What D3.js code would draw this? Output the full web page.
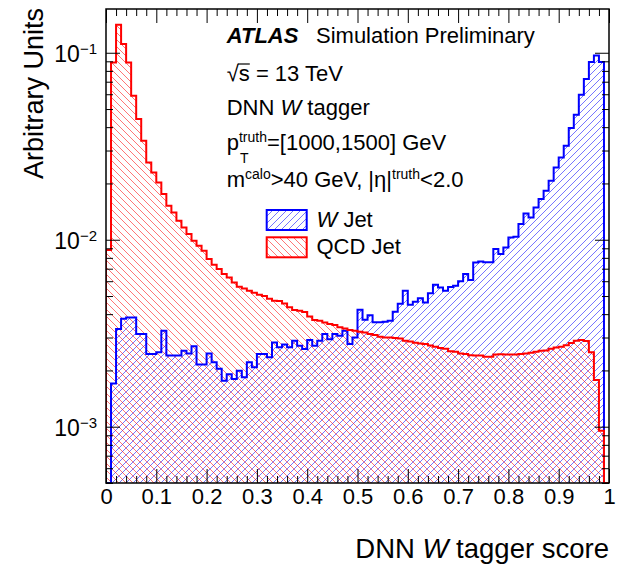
<!DOCTYPE html>
<html>
<head>
<meta charset="utf-8">
<script src="https://cdn.jsdelivr.net/npm/d3@7"></script>
<style>
  body { margin: 0; background: #fff; }
  svg { display: block; }
  text { font-family: "Liberation Sans", Arial, Helvetica, sans-serif; fill: #000; }
</style>
</head>
<body>
<svg id="chart" width="627" height="564"></svg>
<script>
// DNN W tagger score, 100 bins of width 0.01 on [0, 1]
const binWidth = 0.01;

// W jet (signal) normalised bin contents
const wJet = [
  0, 0.00170, 0.00333, 0.00378, 0.00384, 0.00384, 0.00313, 0.00313, 0.00245, 0.00245,
  0.00250, 0.00326, 0.00240, 0.00240, 0.00240, 0.00255, 0.00246, 0.00269, 0.00215, 0.00215,
  0.00246, 0.00221, 0.00204, 0.00176, 0.00191, 0.00180, 0.00199, 0.00184, 0.00221, 0.00208,
  0.00245, 0.00245, 0.00235, 0.00282, 0.00266, 0.00275, 0.00266, 0.00288, 0.00271, 0.00260,
  0.00291, 0.00271, 0.00288, 0.00313, 0.00294, 0.00313, 0.00307, 0.00326, 0.00277, 0.00300,
  0.00422, 0.00373, 0.00395, 0.00362, 0.00362, 0.00364, 0.00369, 0.00412, 0.00455, 0.00534,
  0.00449, 0.00466, 0.00487, 0.00462, 0.00518, 0.00575, 0.00556, 0.00534, 0.00559, 0.00568,
  0.00600, 0.00656, 0.00609, 0.00756, 0.00766, 0.00758, 0.00758, 0.00892, 0.00839, 0.00910,
  0.01029, 0.01038, 0.01213, 0.01382, 0.01316, 0.01489, 0.01651, 0.01828, 0.02068, 0.02435,
  0.02754, 0.03182, 0.03957, 0.04661, 0.05961, 0.07235, 0.08918, 0.09673, 0.08918, 0
];

// QCD jet (background) normalised bin contents
const qcdJet = [
  0.00881, 0.0887, 0.1411, 0.1113, 0.0887, 0.0589, 0.0442, 0.0338, 0.0259, 0.0229,
  0.02025, 0.01756, 0.01520, 0.01400, 0.01264, 0.01164, 0.01073, 0.00988, 0.00929, 0.00873,
  0.00788, 0.00735, 0.00697, 0.00656, 0.00629, 0.00591, 0.00561, 0.00549, 0.00534, 0.00521,
  0.00508, 0.00500, 0.00484, 0.00472, 0.00470, 0.00456, 0.00435, 0.00421, 0.00417, 0.00411,
  0.00388, 0.00372, 0.00369, 0.00361, 0.00354, 0.00350, 0.00340, 0.00335, 0.00329, 0.00326,
  0.00322, 0.00319, 0.00313, 0.00309, 0.00303, 0.00300, 0.00300, 0.00298, 0.00296, 0.00288,
  0.00286, 0.00281, 0.00279, 0.00277, 0.00272, 0.00268, 0.00264, 0.00261, 0.00253, 0.00252,
  0.00246, 0.00245, 0.00241, 0.00240, 0.00240, 0.00237, 0.00237, 0.00243, 0.00244, 0.00243,
  0.00243, 0.00243, 0.00245, 0.00246, 0.00249, 0.00252, 0.00255, 0.00256, 0.00261, 0.00265,
  0.00268, 0.00273, 0.00280, 0.00288, 0.00291, 0.00287, 0.00250, 0.00178, 0.000952, 0
];

const xTicks = [0, 0.1, 0.2, 0.3, 0.4, 0.5, 0.6, 0.7, 0.8, 0.9, 1];
const xTickLabels = ["0", "0.1", "0.2", "0.3", "0.4", "0.5", "0.6", "0.7", "0.8", "0.9", "1"];
const yDecades = [1e-3, 1e-2, 1e-1];
const yDecadeExponents = ["\u22123", "\u22122", "\u22121"];

const legendItems = [
  { label: "W", rest: " Jet", italic: true, color: "#0000ff", pattern: "hatchW" },
  { label: "QCD Jet", rest: "", italic: false, color: "#ff0000", pattern: "hatchQCD" }
];

const svg = d3.select("#chart");
const frame = { left: 106, right: 609, top: 9, bottom: 483 };

const x = d3.scaleLinear().domain([0, 1]).range([frame.left, frame.right]);
const y = d3.scaleLog().domain([5e-4, 0.1714]).range([frame.bottom, frame.top]).clamp(true);

// hatch patterns: "/" for W jets, "\" for QCD jets
const defs = svg.append("defs");
function hatch(id, color, dir) {
  const p = 7;
  const pat = defs.append("pattern")
    .attr("id", id).attr("patternUnits", "userSpaceOnUse")
    .attr("width", p).attr("height", p);
  const d = dir === "back"
    ? `M0,0L${p},${p}M-1,${p - 1}L1,${p + 1}M${p - 1},-1L${p + 1},1`
    : `M0,${p}L${p},0M-1,1L1,-1M${p - 1},${p + 1}L${p + 1},${p - 1}`;
  pat.append("path").attr("d", d).attr("stroke", color)
    .attr("stroke-width", 0.9).attr("stroke-opacity", 0.6).attr("fill", "none");
}
hatch("hatchW", "#0000ff", "fwd");
hatch("hatchQCD", "#ff0000", "back");

defs.append("clipPath").attr("id", "plotClip")
  .append("rect").attr("x", frame.left).attr("y", frame.top)
  .attr("width", frame.right - frame.left).attr("height", frame.bottom - frame.top);

// step outline of a histogram
function stepPoints(vals) {
  const pts = [[x(0), frame.bottom]];
  vals.forEach((v, i) => {
    const yy = v > 0 ? y(v) : frame.bottom;
    pts.push([x(i * binWidth), yy], [x((i + 1) * binWidth), yy]);
  });
  pts.push([x(vals.length * binWidth), frame.bottom]);
  return pts;
}
const line = d3.line();

const plot = svg.append("g").attr("clip-path", "url(#plotClip)");
const series = [
  { vals: wJet, color: "#0000ff", pattern: "hatchW" },
  { vals: qcdJet, color: "#ff0000", pattern: "hatchQCD" }
];
series.forEach(s => {
  plot.append("path").attr("d", line(stepPoints(s.vals)) + "Z")
    .attr("fill", `url(#${s.pattern})`).attr("stroke", "none");
});
series.forEach(s => {
  plot.append("path").attr("d", line(stepPoints(s.vals)))
    .attr("fill", "none").attr("stroke", s.color).attr("stroke-width", 2)
    .attr("stroke-linejoin", "miter");
});

// axes: ticks point inward on all four sides
const xMinor = d3.range(0, 51).map(i => i * 0.02).filter((v, i) => i % 5 !== 0);
const yMinor = [];
[1e-4, 1e-3, 1e-2].forEach(dec => {
  for (let m = 2; m <= 9; m++) {
    const v = m * dec;
    if (v >= 5e-4 && v <= 0.1714) yMinor.push(v);
  }
});

function axisGroup(axis, tx, ty) {
  const g = svg.append("g").attr("transform", `translate(${tx},${ty})`).call(axis);
  g.select(".domain").remove();
  g.selectAll(".tick line").attr("stroke", "#000").attr("stroke-width", 1);
  return g;
}
const fs = 22;
const bottomAxis = axisGroup(
  d3.axisBottom(x).tickValues(xTicks).tickSize(-14).tickPadding(5)
    .tickFormat((d, i) => xTickLabels[i]), 0, frame.bottom);
bottomAxis.selectAll("text").attr("font-size", fs).attr("font-family", null);
axisGroup(d3.axisBottom(x).tickValues(xMinor).tickSize(-7).tickFormat(""), 0, frame.bottom);
axisGroup(d3.axisTop(x).tickValues(xTicks).tickSize(-14).tickFormat(""), 0, frame.top);
axisGroup(d3.axisTop(x).tickValues(xMinor).tickSize(-7).tickFormat(""), 0, frame.top);

axisGroup(d3.axisLeft(y).tickValues(yDecades).tickSize(-14).tickFormat(""), frame.left, 0);
axisGroup(d3.axisLeft(y).tickValues(yMinor).tickSize(-7).tickFormat(""), frame.left, 0);
axisGroup(d3.axisRight(y).tickValues(yDecades).tickSize(-14).tickFormat(""), frame.right, 0);
axisGroup(d3.axisRight(y).tickValues(yMinor).tickSize(-7).tickFormat(""), frame.right, 0);

// y decade labels 10^n
yDecades.forEach((v, i) => {
  const t = svg.append("text").attr("x", 97).attr("y", y(v) + 9.5)
    .attr("text-anchor", "end").attr("font-size", 23);
  t.append("tspan").text("10");
  t.append("tspan").attr("font-size", 15).attr("dy", -8.5).text(yDecadeExponents[i]);
});

// frame
svg.append("rect").attr("x", frame.left).attr("y", frame.top)
  .attr("width", frame.right - frame.left).attr("height", frame.bottom - frame.top)
  .attr("fill", "none").attr("stroke", "#000").attr("stroke-width", 1.5);

// axis titles
const xt = svg.append("text").attr("x", frame.right).attr("y", 558)
  .attr("text-anchor", "end").attr("font-size", 27.5);
xt.append("tspan").text("DNN ");
xt.append("tspan").attr("font-style", "italic").text("W");
xt.append("tspan").text(" tagger score");

svg.append("text").attr("transform", "translate(43,8) rotate(-90)")
  .attr("text-anchor", "end").attr("font-size", 27).text("Arbitrary Units");

// annotation block
const tx0 = 226.7;
const l1 = svg.append("text").attr("x", tx0).attr("y", 42.7).attr("font-size", fs);
l1.append("tspan").attr("font-weight", "bold").attr("font-style", "italic").text("ATLAS");
l1.append("tspan").attr("x", 316).text("Simulation Preliminary");

const l2 = svg.append("text").attr("x", tx0).attr("y", 81).attr("font-size", fs);
l2.append("tspan").text("\u221A");
l2.append("tspan").text("s");
l2.append("tspan").text(" = 13 TeV");
{
  const n = l2.node();
  const r = n.getExtentOfChar(0), s = n.getExtentOfChar(1);
  svg.append("line").attr("x1", r.x + r.width - 1).attr("x2", s.x + s.width)
    .attr("y1", 81 - 17).attr("y2", 81 - 17).attr("stroke", "#000").attr("stroke-width", 1.2);
}

const l3 = svg.append("text").attr("x", tx0).attr("y", 115).attr("font-size", fs);
l3.append("tspan").text("DNN ");
l3.append("tspan").attr("font-style", "italic").text("W");
l3.append("tspan").text(" tagger");

const l4 = svg.append("text").attr("x", tx0).attr("y", 150).attr("font-size", fs);
l4.append("tspan").text("p");
l4.append("tspan").attr("font-size", 14).attr("dy", -8).text("truth");
l4.append("tspan").attr("dy", 8).text("=[1000,1500] GeV");
{
  const pw = l4.node().getExtentOfChar(0);
  svg.append("text").attr("x", pw.x + pw.width + 1).attr("y", 163)
    .attr("font-size", 14).text("T");
}

const l5 = svg.append("text").attr("x", tx0).attr("y", 186.7).attr("font-size", fs);
l5.append("tspan").text("m");
l5.append("tspan").attr("font-size", 14).attr("dy", -8).text("calo");
l5.append("tspan").attr("dy", 8).text(">40 GeV, |\u03B7|");
l5.append("tspan").attr("font-size", 14).attr("dy", -8).text("truth");
l5.append("tspan").attr("dy", 8).text("<2.0");

// legend
legendItems.forEach((d, i) => {
  const yTop = 210 + i * 27.3;
  svg.append("rect").attr("x", 266.7).attr("y", yTop).attr("width", 40).attr("height", 20)
    .attr("fill", `url(#${d.pattern})`).attr("stroke", d.color).attr("stroke-width", 2);
  const t = svg.append("text").attr("x", 316.5).attr("y", yTop + 17).attr("font-size", fs);
  t.append("tspan").attr("font-style", d.italic ? "italic" : null).text(d.label);
  if (d.rest) t.append("tspan").text(d.rest);
});
</script>
</body>
</html>
